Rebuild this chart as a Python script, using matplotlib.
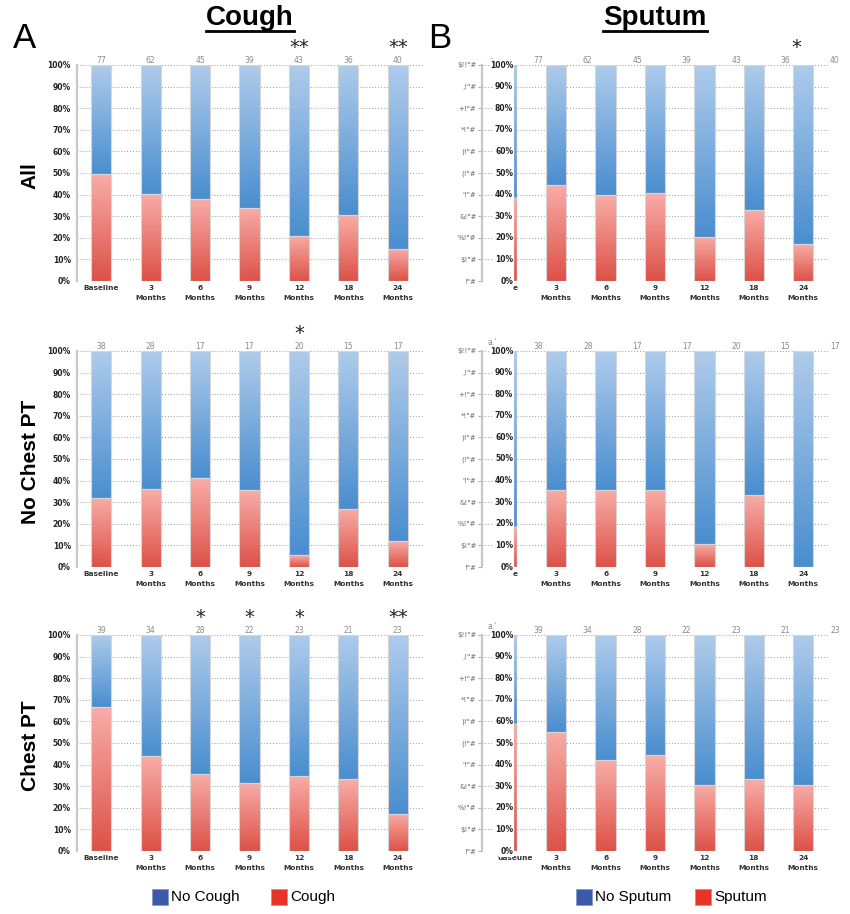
import matplotlib.pyplot as plt
import numpy as np
from matplotlib.colors import LinearSegmentedColormap
from matplotlib.lines import Line2D
from matplotlib.patches import Rectangle

# data
timepoints = ["Baseline", "3\nMonths", "6\nMonths", "9\nMonths",
              "12\nMonths", "18\nMonths", "24\nMonths"]
row_names = ["All", "No Chest PT", "Chest PT"]

cough_all = [49.5, 40.5, 38, 34, 21, 30.5, 15]
cough_nopt = [32, 36, 41, 35.5, 5.5, 27, 12]
cough_pt = [66.5, 44, 35.5, 31.6, 34.7, 33.2, 17.3]

sputum_all = [38.6, 44.6, 39.7, 40.6, 20.5, 32.9, 17.1]
sputum_nopt = [18.3, 35.7, 35.8, 35.8, 10.6, 33.2, 0]
sputum_pt = [59, 55.3, 42.2, 44.3, 30.6, 33.3, 30.6]

n_all = [77, 62, 45, 39, 43, 36, 40]
n_nopt = [38, 28, 17, 17, 20, 15, 17]
n_pt = [39, 34, 28, 22, 23, 21, 23]

cough_sig = [["", "", "", "", "**", "", "**"],
             ["", "", "", "", "*", "", ""],
             ["", "", "*", "*", "*", "", "**"]]
sputum_sig = [["", "", "", "", "", "", "*"],
              ["", "", "", "", "", "", ""],
              ["", "", "", "", "", "", ""]]
sputum_first_n = ["..", "a.'", "a.'"]
sputum_base_lbl = ["e", "e", "uaseune"]

cough = [cough_all, cough_nopt, cough_pt]
sputum = [sputum_all, sputum_nopt, sputum_pt]
counts = [n_all, n_nopt, n_pt]
pct = np.arange(0, 101, 10)

red_cm = LinearSegmentedColormap.from_list("red", ["#dd5248", "#f8aca7"])
blue_cm = LinearSegmentedColormap.from_list("blue", ["#4a8ecf", "#aecbeb"])
grad = np.linspace(0, 1, 64).reshape(-1, 1)


def garble(v):
    s = "".join("!" if c == "0" else chr(ord("#") + int(c)) for c in str(v))
    return s + '"#'


def shade(ax, bars, cmap):
    for b in bars:
        x0, y0, w, h = b.get_x(), b.get_y(), b.get_width(), b.get_height()
        if h <= 0:
            continue
        ax.imshow(grad, extent=[x0, x0 + w, y0, y0 + h], origin="lower",
                  cmap=cmap, aspect="auto", zorder=2, interpolation="bicubic")


def stacked(ax, x, red, width, lw=0.8):
    red = np.array(red)
    rb = ax.bar(x, red, width, color="none", edgecolor="#d6d6d6", lw=lw, zorder=3)
    bb = ax.bar(x, 100 - red, width, bottom=red, color="none",
                edgecolor="#d6d6d6", lw=lw, zorder=3)
    shade(ax, rb, red_cm)
    shade(ax, bb, blue_cm)


def style(ax):
    ax.set_xlim(-0.5, 6.5)
    ax.set_ylim(0, 100)
    for s in ["top", "right", "bottom"]:
        ax.spines[s].set_visible(False)
    ax.spines["left"].set_color("#c8c8c8")
    ax.spines["left"].set_linewidth(1.6)
    ax.set_axisbelow(True)
    ax.yaxis.grid(True, ls=(0, (1, 2)), color="#9a9a9a", lw=0.7)
    ax.set_yticks(pct)
    ax.tick_params(axis="x", length=0, pad=3)


fig = plt.figure(figsize=(8.5, 9.14), dpi=100)
W, H = 850, 914
tops = [65, 351, 635]
ph = 216
pw = 346
sig_y = 103.6

x = np.arange(7)
for r in range(3):
    # cough panel
    ax = fig.add_axes([76.5 / W, 1 - (tops[r] + ph) / H, pw / W, ph / H])
    stacked(ax, x, cough[r], 0.41)
    style(ax)
    ax.set_yticklabels([f"{v}%" for v in pct], fontsize=5.5,
                       fontweight="bold", color="#222222")
    ax.tick_params(axis="y", length=0, pad=4)
    ax.set_xticks(x)
    ax.set_xticklabels(timepoints, fontsize=5.3, fontweight="bold",
                       color="#333333", linespacing=1.7)
    for i in range(7):
        ax.text(x[i], 102.3, str(counts[r][i]), ha="center", va="center",
                fontsize=5.5, color="#8a8a8a")
        if cough_sig[r][i]:
            ax.text(x[i], sig_y, cough_sig[r][i], ha="center", va="bottom",
                    fontsize=14, color="#222222")

    # sputum panel
    ax = fig.add_axes([482 / W, 1 - (tops[r] + ph) / H, pw / W, ph / H])
    sx = np.arange(1, 7)
    stacked(ax, sx, sputum[r][1:], 0.41)
    stacked(ax, [0.172], sputum[r][:1], 0.06, lw=0.3)
    style(ax)
    ax.set_yticklabels([garble(v) for v in pct], fontsize=5,
                       color="#666666")
    ax.tick_params(axis="y", length=3, pad=1, color="#aaaaaa")
    ax.set_xticks(np.concatenate([[0.172], sx]))
    ax.set_xticklabels([sputum_base_lbl[r]] + timepoints[1:], fontsize=5.3,
                       fontweight="bold", color="#333333", linespacing=1.7)
    for v in pct:
        ax.text(0.13, v, f"{v}%", ha="right", va="center", fontsize=5.5,
                fontweight="bold", color="#222222", zorder=4,
                bbox=dict(boxstyle="square,pad=0.15", fc="white", ec="none"))
    ax.text(-0.3, 103.8, sputum_first_n[r], ha="center", va="center",
            fontsize=5.5, color="#8a8a8a")
    for i in range(7):
        ax.text(i + 0.64, 102.3, str(counts[r][i]), ha="center", va="center",
                fontsize=5.5, color="#8a8a8a", clip_on=False)
        if sputum_sig[r][i]:
            ax.text(i - 0.15, sig_y, sputum_sig[r][i], ha="center",
                    va="bottom", fontsize=14, color="#222222")

    fig.text(30 / W, 1 - (tops[r] + ph / 2 + 3) / H, row_names[r],
             rotation=90, ha="center", va="center", fontsize=15,
             fontweight="bold", family="Liberation Sans")

# titles
fig.text(13 / W, 1 - 38 / H, "A", fontsize=25, va="center", ha="left",
         family="Liberation Sans")
fig.text(428 / W, 1 - 38 / H, "B", fontsize=25, va="center", ha="left",
         family="Liberation Sans")
titles = []
for name, cx in [("Cough", 250), ("Sputum", 655)]:
    titles.append(fig.text(cx / W, 1 - 18 / H, name, fontsize=20,
                           fontweight="bold", ha="center", va="center",
                           family="Liberation Sans"))

# legends
leg_font = dict(fontsize=11, va="center", ha="left",
                family=["Liberation Sans Narrow", "Liberation Sans"])
for lx, txt, col in [(152, "No Cough", "#3c58a8"), (271, "Cough", "#e8332a"),
                     (576, "No Sputum", "#3c58a8"), (695, "Sputum", "#e8332a")]:
    fig.patches.append(Rectangle((lx / W, 1 - 905 / H), 16 / W, 16 / H,
                                 transform=fig.transFigure, fc=col,
                                 ec="#8899cc" if col == "#3c58a8" else "#f08080",
                                 lw=0.6))
    fig.text((lx + 19) / W, 1 - 897 / H, txt, **leg_font)

# underline titles
fig.canvas.draw()
rend = fig.canvas.get_renderer()
for t in titles:
    bb = t.get_window_extent(rend)
    yl = bb.y0
    fig.lines.append(Line2D([bb.x0 / W, bb.x1 / W],
                            [yl / H, yl / H], transform=fig.transFigure,
                            color="black", lw=2))

fig.savefig("out.png", dpi=100)
